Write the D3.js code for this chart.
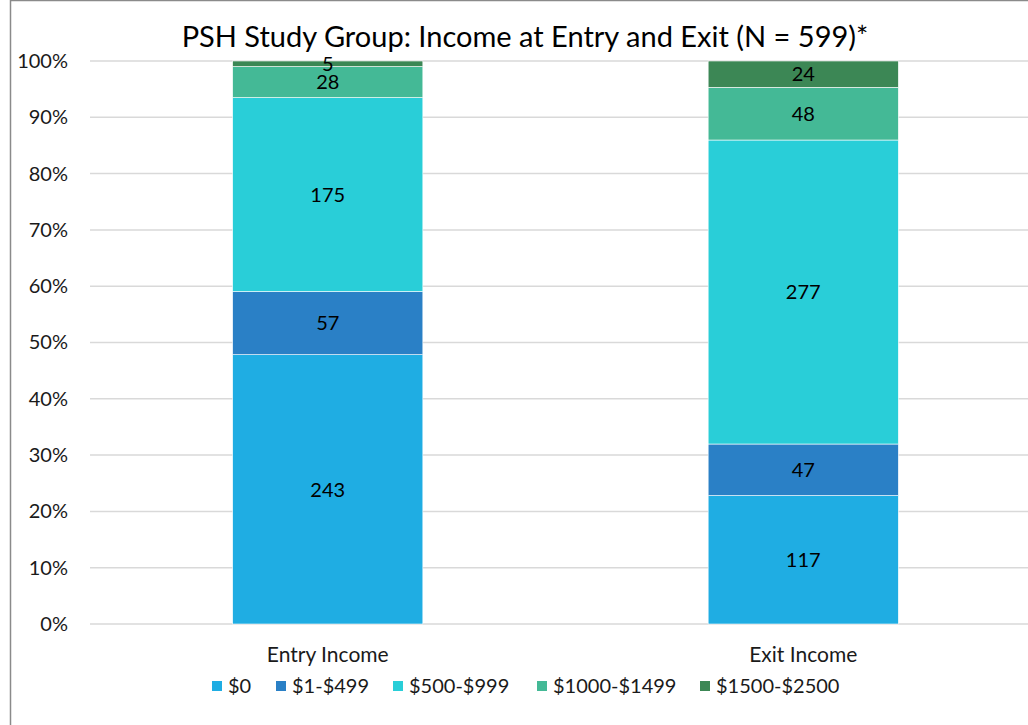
<!DOCTYPE html>
<html>
<head>
<meta charset="utf-8">
<script src="https://cdn.jsdelivr.net/npm/d3@7"></script>
<style>
  body { margin: 0; background: #fff; }
  svg { display: block; font-family: Lato, "Open Sans", sans-serif; }
</style>
</head>
<body>
<div id="chart"></div>
<script>
// datos
const categories = ["Entry Income", "Exit Income"];
const seriesNames = ["$0", "$1-$499", "$500-$999", "$1000-$1499", "$1500-$2500"];
const entryCounts = [243, 57, 175, 28, 5];
const exitCounts = [117, 47, 277, 48, 24];
const colors = ["#1fade3", "#2a80c6", "#29ced8", "#44b996", "#3c8755"];
const yTicks = [0, 0.1, 0.2, 0.3, 0.4, 0.5, 0.6, 0.7, 0.8, 0.9, 1];

const width = 1028, height = 725;
const margin = { top: 61, right: -13, bottom: 101, left: 90 };

const svg = d3.select("#chart").append("svg")
    .attr("width", width)
    .attr("height", height);

// marco
svg.append("rect")
    .attr("x", 10.5).attr("y", 0.5)
    .attr("width", width + 20).attr("height", height + 20)
    .attr("fill", "none")
    .attr("stroke", "#8a8a8a")
    .attr("stroke-width", 1.5);

const x = d3.scaleBand()
    .domain(categories)
    .range([margin.left, width - margin.right])
    .paddingInner(0.6)
    .paddingOuter(0.3);

const y = d3.scaleLinear()
    .domain([0, 1])
    .range([height - margin.bottom, margin.top]);

// filas para el apilado
const rows = categories.map((c, i) => {
    const counts = i === 0 ? entryCounts : exitCounts;
    const total = d3.sum(counts);
    const row = { category: c };
    seriesNames.forEach((s, j) => {
        row[s] = counts[j] / total;
        row[s + "_n"] = counts[j];
    });
    return row;
});

const stack = d3.stack().keys(seriesNames);
const layers = stack(rows);

// lineas de cuadricula
svg.append("g")
    .selectAll("line")
    .data(yTicks)
    .join("line")
    .attr("x1", margin.left)
    .attr("x2", width)
    .attr("y1", d => y(d))
    .attr("y2", d => y(d))
    .attr("stroke", "#d9d9d9")
    .attr("stroke-width", 1.5);

// eje y
const yAxis = svg.append("g")
    .attr("transform", `translate(${margin.left},0)`)
    .call(d3.axisLeft(y).tickValues(yTicks).tickFormat(d3.format(".0%")).tickSize(0).tickPadding(22));
yAxis.select(".domain").remove();
yAxis.selectAll("text")
    .attr("font-size", 20)
    .attr("fill", "#1a1a1a")
    .attr("font-family", "Lato, sans-serif");

// barras
const layer = svg.append("g")
    .selectAll("g")
    .data(layers)
    .join("g")
    .attr("fill", (d, i) => colors[i]);

layer.selectAll("rect")
    .data(d => d)
    .join("rect")
    .attr("x", d => x(d.data.category))
    .attr("width", x.bandwidth())
    .attr("y", d => y(d[1]))
    .attr("height", d => y(d[0]) - y(d[1]))
    .attr("stroke", "#fff")
    .attr("stroke-width", 0.6);

// etiquetas de datos
layer.selectAll("text")
    .data(d => d.map(v => ({ v, key: d.key })))
    .join("text")
    .attr("x", d => x(d.v.data.category) + x.bandwidth() / 2)
    .attr("y", d => (y(d.v[0]) + y(d.v[1])) / 2)
    .attr("dy", "0.36em")
    .attr("text-anchor", "middle")
    .attr("font-size", 20)
    .attr("fill", "#000")
    .text(d => d.v.data[d.key + "_n"]);

// etiquetas de categorias
svg.append("g")
    .selectAll("text")
    .data(categories)
    .join("text")
    .attr("x", d => x(d) + x.bandwidth() / 2)
    .attr("y", 662)
    .attr("text-anchor", "middle")
    .attr("font-size", 21)
    .attr("fill", "#1a1a1a")
    .text(d => d);

// titulo
svg.append("text")
    .attr("x", 525)
    .attr("y", 47)
    .attr("text-anchor", "middle")
    .attr("font-size", 29)
    .attr("fill", "#000")
    .text("PSH Study Group: Income at Entry and Exit (N = 599)*");

// leyenda
const legendX = [212, 276, 393, 537, 700];
const legend = svg.append("g")
    .selectAll("g")
    .data(seriesNames)
    .join("g")
    .attr("transform", (d, i) => `translate(${legendX[i]},686)`);

legend.append("rect")
    .attr("x", 0).attr("y", -5)
    .attr("width", 10).attr("height", 10)
    .attr("fill", (d, i) => colors[i]);

legend.append("text")
    .attr("x", 16)
    .attr("dy", "0.36em")
    .attr("font-size", 20)
    .attr("fill", "#1a1a1a")
    .text(d => d);
</script>
</body>
</html>
